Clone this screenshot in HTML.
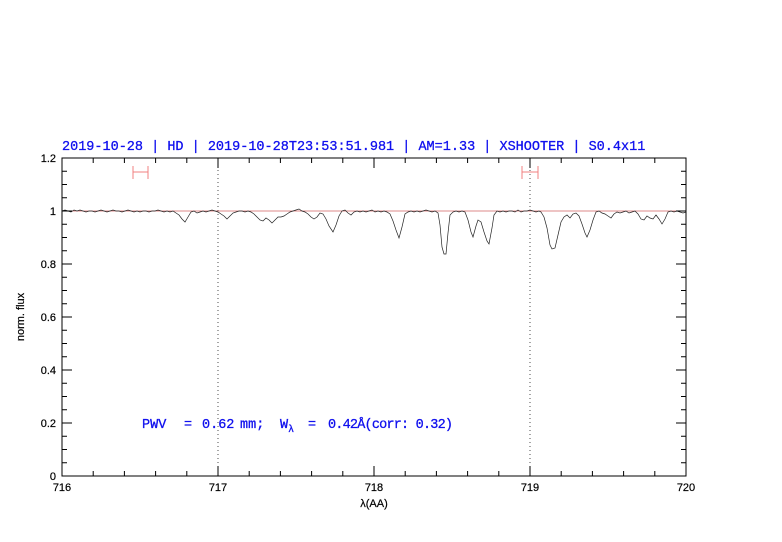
<!DOCTYPE html>
<html><head><meta charset="utf-8"><style>
html,body{margin:0;padding:0;background:#fff;}
svg{display:block;}
</style></head><body>
<svg width="782" height="542" viewBox="0 0 782 542" xmlns="http://www.w3.org/2000/svg">
<rect width="782" height="542" fill="#fff"/>
<text x="62" y="150" font-family="Liberation Mono, monospace" font-size="13.5" fill="#1010ee" stroke="#1010ee" stroke-width="0.3">2019-10-28 | HD | 2019-10-28T23:53:51.981 | AM=1.33 | XSHOOTER | S0.4x11</text>
<!-- dotted verticals -->
<line x1="218" y1="158" x2="218" y2="476" stroke="#000" stroke-width="0.7" stroke-dasharray="1,3"/>
<line x1="530" y1="158" x2="530" y2="476" stroke="#000" stroke-width="0.7" stroke-dasharray="1,3"/>
<!-- reference line -->
<line x1="62" y1="211" x2="686" y2="211" stroke="#d06060" stroke-width="0.7"/>
<!-- error bars -->
<g stroke="#f08080" stroke-width="1">
<line x1="133" y1="172" x2="148" y2="172"/><line x1="133" y1="166" x2="133" y2="179"/><line x1="148" y1="166" x2="148" y2="179"/>
<line x1="522" y1="172" x2="538" y2="172"/><line x1="522" y1="166" x2="522" y2="179"/><line x1="538" y1="166" x2="538" y2="179"/>
</g>
<!-- spectrum -->
<polyline fill="none" stroke="#222" stroke-width="0.7" points="62,211 65,210 68,211 71,212 74,210 77,211 80,210 83,211 86,212 89,211 92,211 95,212 98,211 101,210 104,211 107,212 110,211 113,210 116,211 119,211 122,212 125,211 128,210 131,211 134,212 137,211 140,212 143,211 146,211 149,212 152,211 155,211 158,210 161,211 164,212 167,211 170,212 173,211 176,213 179,215 182,219 185,222 188,217 191,212 194,211 197,213 200,212 203,211 206,212 209,211 212,210 215,211 218,212 221,214 224,216 227,219 230,216 233,213 236,212 239,211 242,211 245,212 248,211 251,212 254,214 257,217 260,220 263,221 266,218 269,220 272,223 275,220 278,217 281,217 284,216 287,214 290,212 293,211 296,210 299,209 302,211 305,212 308,214 311,217 314,219 317,217 320,213 323,214 326,219 329,226 333,232 336,225 339,216 342,211 345,210 348,213 351,215 354,212 357,211 360,212 363,211 366,212 369,211 372,210 375,212 378,211 381,212 384,211 387,212 390,214 393,221 396,230 399,238 402,227 405,214 408,212 411,211 414,212 417,211 420,212 423,211 426,210 429,211 432,212 435,211 438,213 440,225 442,247 444,254 446,254 448,233 450,215 453,212 456,211 459,212 462,211 465,212 468,220 471,232 473,237 476,226 478,220 481,222 484,232 487,241 489,244 492,228 494,215 497,211 500,212 503,211 506,212 509,211 512,211 515,212 518,210 521,212 524,211 527,211 530,210 533,211 536,212 539,211 541,212 544,217 547,228 550,245 552,249 555,248 558,235 561,222 564,217 567,215 570,218 573,214 576,213 579,216 582,224 585,233 587,237 590,230 593,220 596,212 599,211 602,213 605,214 608,216 611,218 614,214 617,212 620,213 623,212 626,211 629,213 632,212 635,211 638,214 641,219 644,220 647,216 650,218 653,219 656,215 659,219 662,224 665,219 668,212 671,211 674,212 677,211 680,212 683,213 686,212"/>
<!-- axes box -->
<rect x="62" y="158" width="624" height="318" fill="none" stroke="#000" stroke-width="1"/>
<path stroke="#000" stroke-width="1" fill="none" d="
M62,476v-10M93.2,476v-5M124.4,476v-5M155.6,476v-5M186.8,476v-5M218,476v-10M249.2,476v-5M280.4,476v-5M311.6,476v-5M342.8,476v-5M374,476v-10M405.2,476v-5M436.4,476v-5M467.6,476v-5M498.8,476v-5M530,476v-10M561.2,476v-5M592.4,476v-5M623.6,476v-5M654.8,476v-5M686,476v-10
M62,158v10M93.2,158v5M124.4,158v5M155.6,158v5M186.8,158v5M218,158v10M249.2,158v5M280.4,158v5M311.6,158v5M342.8,158v5M374,158v10M405.2,158v5M436.4,158v5M467.6,158v5M498.8,158v5M530,158v10M561.2,158v5M592.4,158v5M623.6,158v5M654.8,158v5M686,158v10
M62,476h10M62,462.75h5M62,449.5h5M62,436.25h5M62,423h10M62,409.75h5M62,396.5h5M62,383.25h5M62,370h10M62,356.75h5M62,343.5h5M62,330.25h5M62,317h10M62,303.75h5M62,290.5h5M62,277.25h5M62,264h10M62,250.75h5M62,237.5h5M62,224.25h5M62,211h10M62,197.75h5M62,184.5h5M62,171.25h5M62,158h10
M686,476h-10M686,462.75h-5M686,449.5h-5M686,436.25h-5M686,423h-10M686,409.75h-5M686,396.5h-5M686,383.25h-5M686,370h-10M686,356.75h-5M686,343.5h-5M686,330.25h-5M686,317h-10M686,303.75h-5M686,290.5h-5M686,277.25h-5M686,264h-10M686,250.75h-5M686,237.5h-5M686,224.25h-5M686,211h-10M686,197.75h-5M686,184.5h-5M686,171.25h-5M686,158h-10"/>
<g font-family="Liberation Sans, sans-serif" font-size="11" fill="#000" stroke="#000" stroke-width="0.2" text-anchor="end">
<text x="56" y="162">1.2</text><text x="56" y="215">1</text><text x="56" y="268">0.8</text><text x="56" y="321">0.6</text><text x="56" y="374">0.4</text><text x="56" y="427">0.2</text><text x="56" y="480">0</text>
</g>
<g font-family="Liberation Sans, sans-serif" font-size="11" fill="#000" stroke="#000" stroke-width="0.2" text-anchor="middle">
<text x="62" y="491">716</text><text x="218" y="491">717</text><text x="374" y="491">718</text><text x="530" y="491">719</text><text x="686" y="491">720</text>
<text x="374" y="507">λ(AA)</text>
</g>
<text transform="translate(24,317) rotate(-90)" font-family="Liberation Sans, sans-serif" font-size="11" text-anchor="middle" fill="#000" stroke="#000" stroke-width="0.2">norm. flux</text>
<g font-family="Liberation Mono, monospace" font-size="13.5" fill="#1010ee" stroke="#1010ee" stroke-width="0.3">
<text x="142" y="428">PWV</text>
<text x="184" y="428">=</text>
<text x="202" y="428">0.62</text>
<text x="240" y="428">mm;</text>
<text x="280" y="428">W<tspan font-size="10" dy="4">λ</tspan></text>
<text x="308" y="428">=</text>
<text x="328" y="428" textLength="125" lengthAdjust="spacing">0.42Å(corr: 0.32)</text>
</g>
</svg>
</body></html>
